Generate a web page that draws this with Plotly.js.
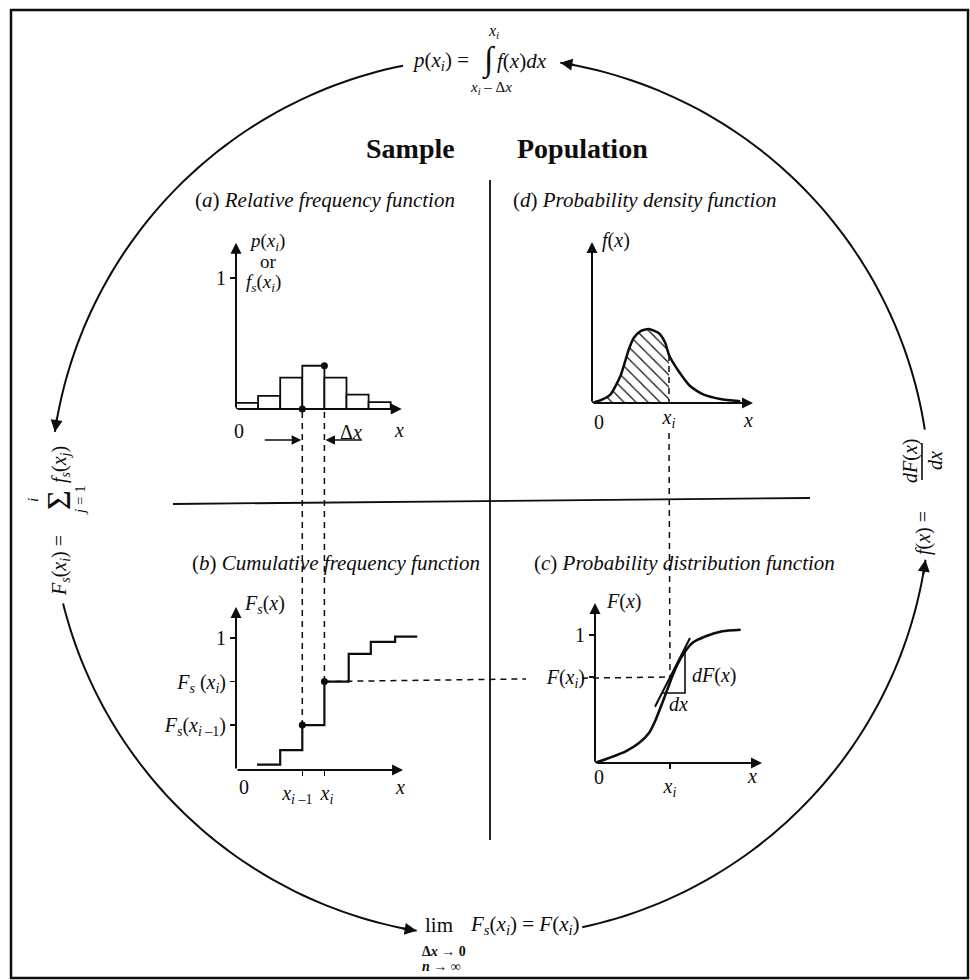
<!DOCTYPE html>
<html><head><meta charset="utf-8">
<script src="https://cdn.plot.ly/plotly-3.0.1.min.js"></script>
<style>html,body{margin:0;padding:0;background:#fff}#chart{width:970px;height:980px}</style>
</head><body><div id="chart"></div>
<script>
// ---------------- data ----------------
// (a) relative frequency histogram: bin centres (in units of bin width) and heights
const histBinCenters = [0.5, 1.5, 2.5, 3.5, 4.5, 5.5, 6.5];
const histRelFreq    = [0.046, 0.10, 0.24, 0.33, 0.24, 0.11, 0.053];
// (b) cumulative frequency step function
const cumStepX = [0.95, 2, 3, 4, 5.1, 6.1, 7.2, 8.2];
const cumStepF = [0.04, 0.15, 0.34, 0.67, 0.88, 0.97, 1.01, 1.01];
const iPrev = 2, iCur = 3;               // x(i-1) and x(i) in the step arrays
// (d) probability density curve
const pdfX = [0, 1, 1.83, 2.83, 3.67, 4.17, 4.83, 5.67, 6.67, 7.33, 7.7, 8.67, 9.83, 11.17, 12.83, 14.83];
const pdfY = [0, 0.033, 0.083, 0.267, 0.533, 0.65, 0.717, 0.74, 0.70, 0.60, 0.48, 0.317, 0.167, 0.083, 0.04, 0.017];
const xiPdf = 7.7;
// (c) probability distribution curve
const cdfX = [0, 1.4, 3.07, 4.4, 5.4, 6.07, 6.73, 7.23, 7.73, 8.23, 8.9, 9.73, 11.07, 12.73, 14.57];
const cdfY = [0, 0.039, 0.091, 0.156, 0.234, 0.338, 0.469, 0.573, 0.677, 0.768, 0.859, 0.938, 0.99, 1.029, 1.041];
const xiCdf = 7.5, FxiCdf = 0.672;
const tangentX = [6.0, 9.5],  tangentY = [0.44, 0.977];
const triangleX = [6.71, 9.0, 9.0], triangleY = [0.547, 0.547, 0.90];
// tick labels
const ticksA_y = [1], ticksA_yText = ['1'];
const ticksB_x = [cumStepX[iPrev], cumStepX[iCur]];
const ticksB_xText = ['<i>x</i><sub><i>i</i> –1</sub>\u00a0\u00a0', '\u00a0<i>x<sub>i</sub></i>'];
const ticksB_y = [1, cumStepF[iCur], cumStepF[iPrev]];
const ticksB_yText = ['1', '<i>F<sub>s</sub></i> (<i>x<sub>i</sub></i>)', '<i>F<sub>s</sub></i>(<i>x</i><sub><i>i</i> –1</sub>)'];
const ticksC_x = [xiCdf], ticksC_xText = ['<i>x<sub>i</sub></i>'];
const ticksC_y = [1, FxiCdf], ticksC_yText = ['1', '<i>F</i>(<i>x<sub>i</sub></i>)'];
const ticksD_x = [xiPdf], ticksD_xText = ['<i>x<sub>i</sub></i>'];

// ---------------- geometry ----------------
const W = 970, H = 980;
const FONT = '"Liberation Serif", "Times New Roman", serif';
const INK = '#0d0d0d';
const px = v => v / W, py = v => 1 - v / H;

const PA = {n:'',  ox:236, oy:409, sx:22.1, sy:131, xmax:8.0, ymax:1.30, tipX:7.5,  tipY:1.27};
const PB = {n:'2', ox:236, oy:770, sx:22.1, sy:132, xmax:8.6, ymax:1.26, tipX:7.56, tipY:1.235};
const PC = {n:'3', ox:595, oy:763, sx:10,   sy:128, xmax:17,  ymax:1.30, tipX:16.7, tipY:1.25};
const PD = {n:'4', ox:592, oy:403, sx:10,   sy:100, xmax:16.5,ymax:1.65, tipX:16.1, tipY:1.61};
const mX = (P, v) => P.ox + v * P.sx;
const mY = (P, v) => P.oy - v * P.sy;

function axes(P, xt, xtt, xticks, yt, ytt) {
  const tf = {family: FONT, size: 20, color: INK};
  return [{
    domain: [px(P.ox), px(P.ox + P.xmax * P.sx)], range: [0, P.xmax], anchor: 'y' + P.n,
    showgrid: false, zeroline: false, showline: false, fixedrange: true,
    tickmode: 'array', tickvals: xt, ticktext: xtt, ticks: xticks ? 'outside' : '', tickangle: 0,
    ticklen: 5, tickwidth: 1.5, tickcolor: INK, tickfont: tf, showticklabels: true
  }, {
    domain: [py(P.oy), py(P.oy - P.ymax * P.sy)], range: [0, P.ymax], anchor: 'x' + P.n,
    showgrid: false, zeroline: false, showline: false, fixedrange: true,
    tickmode: 'array', tickvals: yt, ticktext: ytt, ticks: 'outside', tickangle: 0,
    ticklen: 5, tickwidth: 1.5, tickcolor: INK, tickfont: tf
  }];
}
const [xa, ya] = axes(PA, [], [], false, ticksA_y, ticksA_yText);
const [xb, yb] = axes(PB, ticksB_x, ticksB_xText, true, ticksB_y, ticksB_yText);
const [xc, yc] = axes(PC, ticksC_x, ticksC_xText, true, ticksC_y, ticksC_yText);
const [xd, yd] = axes(PD, ticksD_x, ticksD_xText, false, [], []);

// ---------------- traces ----------------
const ax = P => ({xaxis: 'x' + P.n, yaxis: 'y' + P.n, cliponaxis: false, hoverinfo: 'skip', showlegend: false});
const iHatchEnd = pdfX.indexOf(xiPdf);
const traces = [
  Object.assign({type: 'bar', x: histBinCenters, y: histRelFreq, width: 1,
    marker: {color: 'white', line: {color: INK, width: 1.8}}}, ax(PA)),
  Object.assign({type: 'scatter', mode: 'markers', x: [cumStepX[iPrev], cumStepX[iCur]], y: [0, histRelFreq[iCur]],
    marker: {color: INK, size: 7}}, ax(PA)),
  Object.assign({type: 'scatter', mode: 'lines', x: cumStepX, y: cumStepF,
    line: {color: INK, width: 2.2, shape: 'hv'}}, ax(PB)),
  Object.assign({type: 'scatter', mode: 'markers', x: [cumStepX[iPrev], cumStepX[iCur]], y: [cumStepF[iPrev], cumStepF[iCur]],
    marker: {color: INK, size: 7}}, ax(PB)),
  Object.assign({type: 'scatter', mode: 'lines', x: pdfX.slice(0, iHatchEnd + 1), y: pdfY.slice(0, iHatchEnd + 1),
    fill: 'tozeroy', fillcolor: 'rgba(255,255,255,0)', line: {width: 0, color: 'rgba(0,0,0,0)', shape: 'spline', smoothing: 0.6},
    fillpattern: {shape: '\\', fgcolor: INK, bgcolor: 'rgba(255,255,255,0)', size: 8.5, solidity: 0.14}}, ax(PD)),
  Object.assign({type: 'scatter', mode: 'lines', x: pdfX, y: pdfY, line: {color: INK, width: 2.5, shape: 'spline', smoothing: 0.6}}, ax(PD)),
  Object.assign({type: 'scatter', mode: 'lines', x: cdfX, y: cdfY, line: {color: INK, width: 2.6, shape: 'spline', smoothing: 0.6}}, ax(PC)),
  Object.assign({type: 'scatter', mode: 'lines', x: tangentX, y: tangentY, line: {color: INK, width: 2}}, ax(PC)),
  Object.assign({type: 'scatter', mode: 'lines', x: triangleX, y: triangleY, line: {color: INK, width: 1.6}}, ax(PC))
];

// ---------------- annotations ----------------
function T(text, x, y, o) {
  o = o || {};
  return Object.assign({xref: 'paper', yref: 'paper', x: px(x), y: py(y), text: text, showarrow: false,
    xanchor: 'center', yanchor: 'middle', font: {family: FONT, size: o.size || 20, color: INK}}, o.extra || {});
}
function axisArrow(P, tx, ty) {
  return {xref: 'x' + P.n, yref: 'y' + P.n, axref: 'x' + P.n, ayref: 'y' + P.n, x: tx, y: ty, ax: 0, ay: 0,
    text: '', showarrow: true, arrowhead: 2, arrowsize: 1.1, arrowwidth: 2, arrowcolor: INK, standoff: 0, startstandoff: 0};
}
function pArrow(x, y, dx, dy, w) {
  return {xref: 'paper', yref: 'paper', x: px(x), y: py(y), ax: dx, ay: dy, axref: 'pixel', ayref: 'pixel',
    text: '', showarrow: true, arrowhead: 2, arrowsize: 1.2, arrowwidth: w || 1.8, arrowcolor: INK, standoff: 0};
}
const R90 = s => ({size: s || 20, extra: {textangle: -90}});
const annotations = [
  // headers
  T('<b>Sample</b>', 410, 148, {size: 28}),
  T('<b>Population</b>', 582, 148, {size: 28}),
  T('(<i>a</i>) <i>Relative frequency function</i>', 193, 200, {size: 21, extra: {xanchor: 'left'}}),
  T('(<i>d</i>) <i>Probability density function</i>', 511, 200, {size: 21, extra: {xanchor: 'left'}}),
  T('(<i>b</i>) <i>Cumulative frequency function</i>', 190, 563, {size: 21, extra: {xanchor: 'left'}}),
  T('(<i>c</i>) <i>Probability distribution function</i>', 532, 563, {size: 21, extra: {xanchor: 'left'}}),
  // top formula
  T('<i>p</i>(<i>x<sub>i</sub></i>) =', 471, 61, {size: 21, extra: {xanchor: 'right'}}),
  T('∫', 489, 60, {size: 34}),
  T('<i>f</i>(<i>x</i>)<i>dx</i>', 495, 61, {size: 21, extra: {xanchor: 'left'}}),
  T('<i>x<sub>i</sub></i>', 493, 31, {size: 16}),
  T('<i>x<sub>i</sub></i> – Δ<i>x</i>', 491, 88, {size: 15}),
  // bottom formula
  T('lim', 423, 925, {size: 21, extra: {xanchor: 'left'}}),
  T('<i>F<sub>s</sub></i>(<i>x<sub>i</sub></i>) = <i>F</i>(<i>x<sub>i</sub></i>)', 468, 925, {size: 21, extra: {xanchor: 'left'}}),
  T('<b>Δ<i>x</i> → 0</b>', 420, 951, {size: 14, extra: {xanchor: 'left'}}),
  T('<b><i>n</i> → ∞</b>', 420, 966, {size: 14, extra: {xanchor: 'left'}}),
  // left formula (rotated)
  T('<i>F<sub>s</sub></i>(<i>x<sub>i</sub></i>) =', 60, 566, R90(20)),
  T('Σ', 58, 500, R90(34)),
  T('<i>f<sub>s</sub></i>(<i>x<sub>j</sub></i>)', 60, 465, R90(20)),
  T('<i>i</i>', 33, 500, R90(15)),
  T('<i>j</i> = 1', 80, 500, R90(15)),
  // right formula (rotated)
  T('<i>f</i>(<i>x</i>) =', 923, 533, R90(20)),
  T('<i>dF</i>(<i>x</i>)', 910, 461, R90(20)),
  T('<i>dx</i>', 935, 461, R90(20)),
  // panel a labels
  T('<i>p</i>(<i>x<sub>i</sub></i>)', 267, 242, {size: 19}),
  T('or', 268, 261, {size: 19}),
  T('<i>f<sub>s</sub></i>(<i>x<sub>i</sub></i>)', 263, 283, {size: 19}),
  T('0', 239, 431),
  T('<i>x</i>', 399, 430),
  T('Δ<i>x</i>', 351, 432),
  // panel d labels
  T('<i>f</i>(<i>x</i>)', 616, 241),
  T('0', 599, 422),
  T('<i>x</i>', 748, 420),
  // panel b labels
  T('<i>F<sub>s</sub></i>(<i>x</i>)', 264, 604),
  T('0', 244, 787),
  T('<i>x</i>', 400, 787),
  // panel c labels
  T('<i>F</i>(<i>x</i>)', 623, 601),
  T('0', 599, 777),
  T('<i>x</i>', 752, 776),
  T('<i>dF</i>(<i>x</i>)', 714, 675),
  T('<i>dx</i>', 678, 704),
  // axis arrows
  axisArrow(PA, PA.tipX, 0), axisArrow(PA, 0, PA.tipY),
  axisArrow(PB, PB.tipX, 0), axisArrow(PB, 0, PB.tipY),
  axisArrow(PC, PC.tipX, 0), axisArrow(PC, 0, PC.tipY),
  axisArrow(PD, PD.tipX, 0), axisArrow(PD, 0, PD.tipY),
  // delta-x arrows in (a)
  pArrow(mX(PA, cumStepX[iPrev]) - 1, 440, -38, 0, 1.6),
  pArrow(mX(PA, cumStepX[iCur]) + 1, 440, 38, 0, 1.6)
];

// ---------------- shapes ----------------
const shapes = [];
const lineS = (x0, y0, x1, y1, w, dash) => ({type: 'line', xref: 'paper', yref: 'paper',
  x0: px(x0), y0: py(y0), x1: px(x1), y1: py(y1), line: {color: INK, width: w, dash: dash || 'solid'}});
// frame
shapes.push({type: 'rect', xref: 'paper', yref: 'paper', x0: px(11), y0: py(10), x1: px(968), y1: py(978),
  line: {color: INK, width: 2.5}});
// quadrant lines
shapes.push(lineS(173, 504, 810, 498, 1.8));
shapes.push(lineS(490, 180, 490, 840, 1.8));
// right formula fraction bar
shapes.push(lineS(922, 443, 922, 480, 1.6));
// outer circle arcs with arrow heads
const CX = 490, CY = 497, RR = 440;
const arcs = [[101.4, 171.5], [194, 260.4], [282.1, 351.8], [8.8, 80.8]];
arcs.forEach(([a0, a1]) => {
  let s = '';
  const n = 60;
  for (let k = 0; k <= n; k++) {
    const t = (a0 + (a1 - a0) * k / n) * Math.PI / 180;
    s += (k ? 'L' : 'M') + px(CX + RR * Math.cos(t)).toFixed(5) + ',' + py(CY - RR * Math.sin(t)).toFixed(5);
  }
  shapes.push({type: 'path', xref: 'paper', yref: 'paper', path: s, line: {color: INK, width: 2}});
  const t1 = a1 * Math.PI / 180;
  annotations.push(pArrow(CX + RR * Math.cos(t1), CY - RR * Math.sin(t1), Math.sin(t1) * 16, Math.cos(t1) * 16, 2));
});
// dashed connectors
const D = '6px,5px';
const xPrev = mX(PB, cumStepX[iPrev]), xCur = mX(PB, cumStepX[iCur]);
shapes.push(lineS(xPrev, mY(PA, 0) + 3, xPrev, mY(PB, cumStepF[iPrev]), 1.5, D));
shapes.push(lineS(xCur, mY(PA, 0) + 3, xCur, mY(PB, cumStepF[iCur]), 1.5, D));
const hx0 = xCur, hy0 = mY(PB, cumStepF[iCur]), hx1 = mX(PC, xiCdf), hy1 = mY(PC, FxiCdf);
const hy = x => hy0 + (hy1 - hy0) * (x - hx0) / (hx1 - hx0);
shapes.push(lineS(hx0, hy0, 526, hy(526), 1.5, D));
shapes.push(lineS(582, hy(582), hx1, hy1, 1.5, D));
const xdi = mX(PD, xiPdf);
shapes.push(lineS(xdi, mY(PD, pdfY[iHatchEnd]), xdi, mY(PD, 0), 1.5, D));
shapes.push(lineS(xdi, 433, hx1, hy1, 1.5, D));

const layout = {
  width: W, height: H, margin: {l: 0, r: 0, t: 0, b: 0, pad: 0},
  paper_bgcolor: 'white', plot_bgcolor: 'rgba(0,0,0,0)', showlegend: false,
  font: {family: FONT, color: INK},
  xaxis: xa, yaxis: ya, xaxis2: xb, yaxis2: yb, xaxis3: xc, yaxis3: yc, xaxis4: xd, yaxis4: yd,
  annotations: annotations, shapes: shapes, bargap: 0
};
Plotly.newPlot('chart', traces, layout, {staticPlot: true, displayModeBar: false});
</script>
</body></html>
